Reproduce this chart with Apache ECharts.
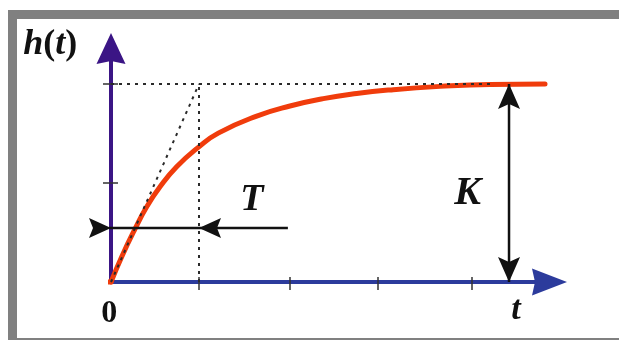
<!DOCTYPE html>
<html>
<head>
<meta charset="utf-8">
<title>h(t)</title>
<script src="https://cdn.jsdelivr.net/npm/echarts@6/dist/echarts.min.js"></script>
<style>
  html, body { margin: 0; padding: 0; background: #fff; }
  #chart { width: 619px; height: 340px; }
</style>
</head>
<body>
<div id="chart"></div>
<script>
/* 数据：t 以 T 为单位，h 以 K 为单位 */
const xTicks = [1, 2.03, 3.03, 4.1]
const yTicks = [0.5, 1]
const flatPart = [[-0.33, 0], [0, 0]]
const stepResponse = [
  [0, 0], [0.122, 0.128], [0.273, 0.268], [0.406, 0.38], [0.557, 0.481],
  [0.746, 0.582], [0.992, 0.68], [1.219, 0.752], [1.656, 0.838], [2.034, 0.889],
  [2.413, 0.926], [2.792, 0.952], [3.17, 0.97], [3.739, 0.988], [4.307, 0.998], [4.932, 1]
]
const kLevel = [[0, 1], [4.36, 1]]
const tangent = [[0, 0], [1, 1]]
const tVertical = [[1, 0], [1, 1]]
const tMarker = [[-0.49, 0.273], [2.01, 0.273]]
const tArrowTips = [[0, 0.273], [1, 0.273]]
const kMarker = [[4.523, 0], [4.523, 1]]
const kArrowTips = [[4.523, 1], [4.523, 0]]
const labelNames = ['h(t)', 'T', 'K', 't', '0']
const labelPos = [[-0.69, 1.2], [1.602, 0.412], [4.051, 0.444], [4.602, -0.141], [-0.02, -0.162]]

const xMax = 4.983
const yMax = 1.1793
const serif = 'Liberation Serif'
const ink = '#111'
const dotted = { color: '#2a2a2a', width: 2, type: [3, 5] }

const myChart = echarts.init(document.getElementById('chart'))
myChart.setOption({
  backgroundColor: '#fff',
  animation: false,
  /* 灰色边框 */
  graphic: [
    { type: 'rect', shape: { x: 8, y: 10, width: 9, height: 330 }, style: { fill: '#808080' } },
    { type: 'rect', shape: { x: 8, y: 10, width: 611, height: 9 }, style: { fill: '#808080' } },
    { type: 'rect', shape: { x: 8, y: 338, width: 611, height: 2 }, style: { fill: '#808080' } }
  ],
  grid: { left: 111, right: 69.5, top: 48.5, bottom: 58, outerBoundsMode: 'none' },
  xAxis: [
    {
      type: 'value', min: 0, max: xMax,
      splitLine: { show: false }, axisLabel: { show: false },
      axisLine: {
        lineStyle: { color: '#2c3b9c', width: 4 },
        symbol: ['none', 'path://M13.5,0 L27,35 L13.5,32 L0,35 Z'],
        symbolSize: [27, 35]
      },
      axisTick: { customValues: xTicks, length: 8, lineStyle: { color: '#333', width: 1.5 } }
    },
    {
      type: 'value', min: 0, max: xMax, position: 'bottom',
      splitLine: { show: false }, axisLabel: { show: false }, axisLine: { show: false },
      axisTick: { customValues: xTicks, inside: true, length: 5, lineStyle: { color: '#333', width: 1.5 } }
    }
  ],
  yAxis: [
    {
      type: 'value', min: 0, max: yMax,
      splitLine: { show: false }, axisLabel: { show: false },
      axisLine: {
        lineStyle: { color: '#3b1585', width: 4 },
        symbol: ['none', 'path://M14.5,0 L29,31 L14.5,28 L0,31 Z'],
        symbolSize: [29, 31]
      },
      axisTick: { customValues: yTicks, length: 8, lineStyle: { color: '#333', width: 1.5 } }
    },
    {
      type: 'value', min: 0, max: yMax, position: 'left',
      splitLine: { show: false }, axisLabel: { show: false }, axisLine: { show: false },
      axisTick: { customValues: yTicks, inside: true, length: 7, lineStyle: { color: '#333', width: 1.5 } }
    }
  ],
  series: [
    /* 阶跃响应曲线 */
    { type: 'line', data: flatPart, symbol: 'none', clip: false, lineStyle: { color: '#f03c0c', width: 5, cap: 'round' } },
    {
      type: 'line', data: stepResponse, smooth: 0.5, symbol: 'none', clip: false,
      lineStyle: { color: '#f03c0c', width: 5, cap: 'round', join: 'round' }
    },
    /* 虚线：稳态值、切线、t=T */
    { type: 'line', data: kLevel, symbol: 'none', clip: false, lineStyle: dotted, z: 3 },
    { type: 'line', data: tangent, symbol: 'none', clip: false, lineStyle: dotted, z: 3 },
    { type: 'line', data: tVertical, symbol: 'none', clip: false, lineStyle: dotted, z: 3 },
    /* T、K 标注线 */
    { type: 'line', data: tMarker, symbol: 'none', clip: false, lineStyle: { color: ink, width: 2.5 }, z: 4 },
    { type: 'line', data: kMarker, symbol: 'none', clip: false, lineStyle: { color: ink, width: 2.5 }, z: 4 },
    {
      type: 'scatter', clip: false, z: 5,
      symbol: 'path://M10,0 L20,22 L10,18 L0,22 Z', symbolSize: [20, 22],
      itemStyle: { color: ink, opacity: 1 },
      data: tArrowTips.map((p, i) => ({ value: p, symbolRotate: i === 0 ? -90 : 90, symbolOffset: i === 0 ? [-11, 0] : [11, 0] }))
    },
    {
      type: 'scatter', clip: false, z: 5,
      symbol: 'path://M11,0 L22,25 L11,20 L0,25 Z', symbolSize: [22, 25],
      itemStyle: { color: ink, opacity: 1 },
      data: kArrowTips.map((p, i) => ({ value: p, symbolRotate: i === 0 ? 0 : 180, symbolOffset: i === 0 ? [0, 12.5] : [0, -12.5] }))
    },
    /* 文字 */
    {
      type: 'scatter', clip: false, z: 6, symbolSize: 1, itemStyle: { color: 'rgba(0,0,0,0)', opacity: 1 },
      data: labelNames.map((name, i) => ({ name, value: labelPos[i] })),
      label: {
        show: true, position: 'inside', color: ink, opacity: 1,
        fontFamily: serif, fontWeight: 'bold', fontStyle: 'italic', fontSize: 38,
        formatter: p => {
          if (p.name === 'h(t)') return '{i|h}{u|(}{i|t}{u|)}'
          if (p.name === '0') return '{n|0}'
          if (p.name === 't') return '{s|t}'
          if (p.name === 'K') return '{k|K}'
          return p.name
        },
        rich: {
          i: { fontFamily: serif, fontWeight: 'bold', fontStyle: 'italic', fontSize: 36, color: ink },
          u: { fontFamily: serif, fontWeight: 'bold', fontStyle: 'normal', fontSize: 36, color: ink },
          n: { fontFamily: serif, fontWeight: 'bold', fontStyle: 'normal', fontSize: 32, color: ink },
          s: { fontFamily: serif, fontWeight: 'bold', fontStyle: 'italic', fontSize: 34, color: ink },
          k: { fontFamily: serif, fontWeight: 'bold', fontStyle: 'italic', fontSize: 40, color: ink }
        }
      }
    }
  ]
})
</script>
</body>
</html>
